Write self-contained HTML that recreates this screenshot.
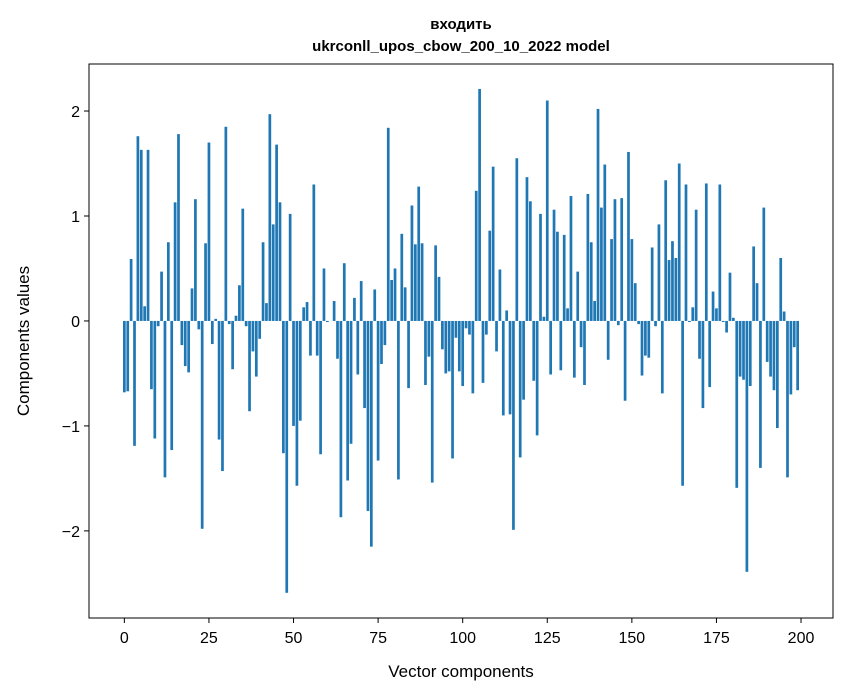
<!DOCTYPE html>
<html><head><meta charset="utf-8"><style>
body{margin:0;background:#fff}
svg{display:block;font-family:"Liberation Sans","DejaVu Sans",sans-serif}
</style></head><body>
<svg id="chart" width="847" height="696" viewBox="0 0 847 696">
<text x="461" y="29" text-anchor="middle" font-size="15" font-weight="bold">входить</text>
<text x="461" y="51" text-anchor="middle" font-size="15" font-weight="bold">ukrconll_upos_cbow_200_10_2022 model</text>
<g id="bars"></g>
<g id="xticks"></g>
<g id="yticks"></g>
<rect x="89" y="64" width="744" height="554" fill="none" stroke="#000" stroke-width="1"/>
<text x="461" y="677" text-anchor="middle" font-size="17">Vector components</text>
<text transform="translate(29,341) rotate(-90)" text-anchor="middle" font-size="17">Components values</text>
</svg>
<script>
const values = [-0.68,-0.67,0.59,-1.19,1.76,1.63,0.14,1.63,-0.65,-1.12,
-0.05,0.47,-1.49,0.75,-1.23,1.13,1.78,-0.23,-0.43,-0.49,
0.31,1.16,-0.08,-1.98,0.74,1.70,-0.22,0.02,-1.13,-1.43,
1.85,-0.03,-0.46,0.05,0.34,1.07,-0.05,-0.86,-0.29,-0.53,
-0.17,0.75,0.17,1.97,0.92,1.68,1.13,-1.26,-2.59,1.02,
-1.00,-1.57,-0.95,0.13,0.18,-0.33,1.30,-0.33,-1.27,0.50,
-0.01,0.00,0.19,-0.36,-1.87,0.55,-1.52,-1.17,0.22,-0.51,
0.38,-0.83,-1.81,-2.15,0.30,-1.33,-0.41,-0.23,1.84,0.39,
0.50,-1.51,0.83,0.32,-0.64,1.10,0.73,1.28,0.74,-0.61,
-0.34,-1.54,0.72,0.42,-0.27,-0.50,-0.48,-1.31,-0.16,-0.48,
-0.62,-0.07,-0.13,-0.69,1.24,2.21,-0.59,-0.13,0.86,1.47,
-0.29,0.49,-0.90,0.10,-0.89,-1.99,1.55,-1.30,-0.75,1.37,
1.14,-0.57,-1.09,1.02,0.04,2.10,-0.51,1.06,0.85,-0.47,
0.82,0.12,1.19,-0.54,0.47,-0.25,-0.61,1.21,0.75,0.19,
2.02,1.08,1.49,-0.37,0.78,1.16,-0.04,1.17,-0.76,1.61,
0.78,0.36,-0.03,-0.52,-0.33,-0.35,0.70,-0.05,0.92,-0.69,
1.34,0.58,0.76,0.60,1.50,-1.57,1.30,-0.01,0.13,1.06,
-0.36,-0.83,1.31,-0.63,0.28,0.12,1.30,-0.01,-0.11,0.46,
0.03,-1.59,-0.53,-0.56,-2.39,-0.62,0.71,0.36,-1.40,1.08,
-0.39,-0.53,-0.66,-1.02,0.60,0.09,-1.49,-0.70,-0.25,-0.66];
const xTickLabels = [0,25,50,75,100,125,150,175,200];
const yTickLabels = [-2,-1,0,1,2];
const NS="http://www.w3.org/2000/svg";
const xMin=-10.45, xMax=209.45, yMin=-2.83, yMax=2.448;
const L=89,R=833,T=64,B=618;
function xs(v){return L+(v-xMin)/(xMax-xMin)*(R-L);}
function ys(v){return B-(v-yMin)/(yMax-yMin)*(B-T);}
const bars=document.getElementById('bars');
values.forEach((v,i)=>{
  const r=document.createElementNS(NS,'rect');
  const x0=xs(i-0.4), x1=xs(i+0.4);
  const y0=ys(Math.max(v,0)), y1=ys(Math.min(v,0));
  r.setAttribute('x',x0);r.setAttribute('width',x1-x0);
  r.setAttribute('y',y0);r.setAttribute('height',Math.max(y1-y0,0.01));
  r.setAttribute('fill','#1f77b4');
  
  
  bars.appendChild(r);
});
const xg=document.getElementById('xticks');
xTickLabels.forEach(t=>{
  const x=xs(t);
  const l=document.createElementNS(NS,'line');
  l.setAttribute('x1',x);l.setAttribute('x2',x);l.setAttribute('y1',B);l.setAttribute('y2',B+5);l.setAttribute('stroke','#000');
  
  
  xg.appendChild(l);
  const s=document.createElementNS(NS,'text');
  s.setAttribute('x',x);s.setAttribute('y',B+25);s.setAttribute('text-anchor','middle');s.setAttribute('font-size','16');
  s.textContent=String(t);
  
  
  xg.appendChild(s);
});
const yg=document.getElementById('yticks');
yTickLabels.forEach(t=>{
  const y=ys(t);
  const l=document.createElementNS(NS,'line');
  l.setAttribute('x1',L-5);l.setAttribute('x2',L);l.setAttribute('y1',y);l.setAttribute('y2',y);l.setAttribute('stroke','#000');
  
  
  yg.appendChild(l);
  const s=document.createElementNS(NS,'text');
  s.setAttribute('x',L-9);s.setAttribute('y',y+6);s.setAttribute('text-anchor','end');s.setAttribute('font-size','16');
  s.textContent=t<0?'\u2212'+Math.abs(t):String(t);
  
  
  yg.appendChild(s);
});
</script>
</body></html>
